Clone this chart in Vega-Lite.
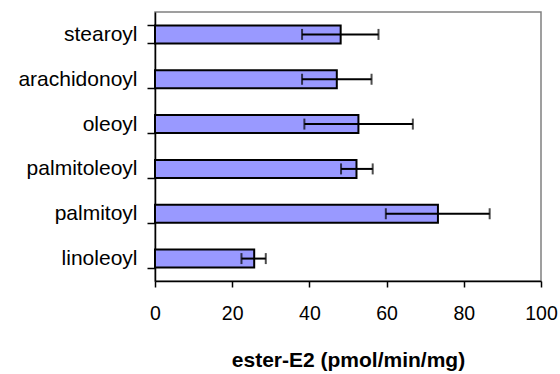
{
  "$schema": "https://vega.github.io/schema/vega-lite/v6.json",
  "autosize": {"type": "none"},
  "width": 386,
  "height": 269,
  "padding": {"left": 155, "top": 12, "right": 19, "bottom": 93},
  "background": "white",
  "config": {
    "view": {"stroke": "#808080", "strokeWidth": 1.5},
    "font": "Liberation Sans"
  },
  "data": {
    "values": [
      {"acyl": "stearoyl", "value": 48.1, "low": 38.1, "high": 57.9},
      {"acyl": "arachidonoyl", "value": 47.1, "low": 38.1, "high": 56.1},
      {"acyl": "oleoyl", "value": 52.7, "low": 38.7, "high": 66.8},
      {"acyl": "palmitoleoyl", "value": 52.2, "low": 48.2, "high": 56.4},
      {"acyl": "palmitoyl", "value": 73.3, "low": 59.8, "high": 86.7},
      {"acyl": "linoleoyl", "value": 25.7, "low": 22.4, "high": 28.7}
    ]
  },
  "encoding": {
    "y": {
      "field": "acyl",
      "type": "nominal",
      "sort": null,
      "scale": {"paddingInner": 0.6, "paddingOuter": 0.3},
      "axis": {
        "title": null,
        "tickBand": "extent",
        "domainColor": "black",
        "domainWidth": 1.5,
        "tickColor": "black",
        "tickWidth": 1.5,
        "tickSize": 8,
        "labelFontSize": 21,
        "labelColor": "black",
        "labelPadding": 10
      }
    }
  },
  "layer": [
    {
      "mark": {"type": "bar", "fill": "#9999FF", "stroke": "black", "strokeWidth": 2},
      "encoding": {
        "x": {
          "field": "value",
          "type": "quantitative",
          "scale": {"domain": [0, 100], "nice": false},
          "axis": {
            "title": "ester-E2 (pmol/min/mg)",
            "values": [0, 20, 40, 60, 80, 100],
            "grid": false,
            "domainColor": "black",
            "domainWidth": 1.5,
            "tickColor": "black",
            "tickWidth": 1.5,
            "tickSize": 6,
            "labelFontSize": 19.5,
            "labelColor": "black",
            "labelPadding": 17,
            "labelFlush": false,
            "titleFontSize": 21,
            "titleFontWeight": "bold",
            "titleColor": "black",
            "titlePadding": 27
          }
        }
      }
    },
    {
      "mark": {"type": "rule", "color": "black", "strokeWidth": 2},
      "encoding": {
        "x": {"field": "low", "type": "quantitative"},
        "x2": {"field": "high"}
      }
    },
    {
      "mark": {"type": "tick", "orient": "vertical", "color": "black", "thickness": 2, "size": 11},
      "encoding": {"x": {"field": "low", "type": "quantitative"}}
    },
    {
      "mark": {"type": "tick", "orient": "vertical", "color": "black", "thickness": 2, "size": 11},
      "encoding": {"x": {"field": "high", "type": "quantitative"}}
    }
  ]
}
